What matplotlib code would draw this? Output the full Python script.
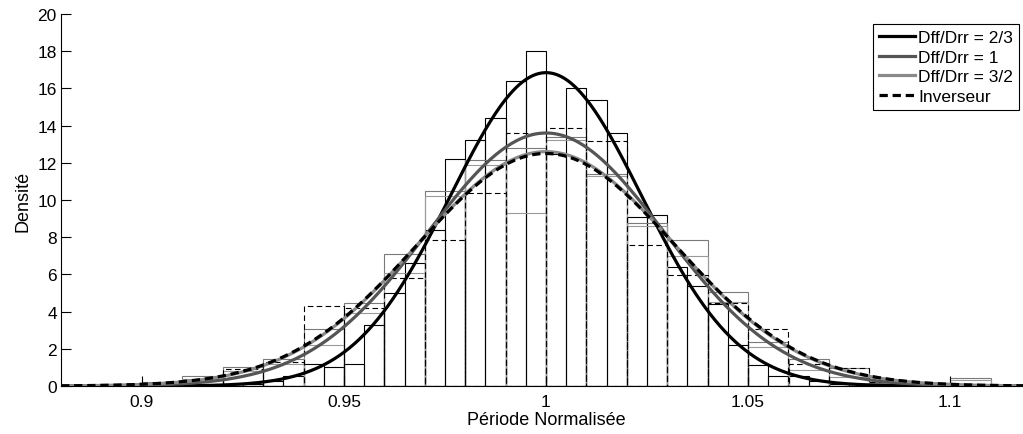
import numpy as np
import matplotlib
matplotlib.use("Agg")
import matplotlib.pyplot as plt
from matplotlib.lines import Line2D

plt.rcParams["font.family"] = ["Liberation Sans", "DejaVu Sans"]

# histogram of normalised period (density), one per Dff/Drr ratio + inverter
LABELS = ["Dff/Drr = 2/3", "Dff/Drr = 1", "Dff/Drr = 3/2", "Inverseur"]

# Dff/Drr = 2/3 : bins of 0.005 starting at 0.92
h23_start, h23_width = 0.92, 0.005
h23 = [0.1, 0.1, 0.25, 0.55, 1.2, 1.0, 1.2, 3.3, 5.0, 6.6, 8.4, 12.2,
       13.2, 14.4, 16.4, 18.0, 12.5, 16.0, 15.4, 13.6, 9.1, 9.2, 6.4, 5.4,
       4.4, 2.2, 1.15, 0.55, 0.55, 0.25, 0.1, 0.1]

# the other three : bins of 0.01 starting at 0.89
h_start, h_width = 0.89, 0.01
h1 = [0.05, 0.2, 0.55, 1.0, 1.45, 3.06, 4.46, 7.1, 10.47, 12.17, 12.78,
      13.4, 11.4, 8.76, 7.87, 5.07, 2.38, 1.45, 0.97, 0.2, 0.05, 0.43]
h32 = [0.03, 0.1, 0.38, 0.82, 1.18, 2.22, 3.9, 6.1, 10.23, 11.88, 9.28,
       13.2, 11.27, 8.58, 6.97, 4.5, 2.08, 0.88, 0.5, 0.15, 0.05, 0.3]
hinv = [0.05, 0.1, 0.3, 0.9, 1.3, 4.28, 4.17, 5.79, 7.87, 10.38, 13.58,
        13.89, 13.17, 7.58, 5.97, 4.46, 3.06, 1.2, 0.97, 0.2, 0.1, 0.05]

# fitted normal laws (mean, std)
fit_mu = [1.0, 1.0, 1.0, 1.0]
fit_sigma = [0.02368, 0.02933, 0.03166, 0.03191]

COL = ["black", "#555555", "#8a8a8a", "black"]
HCOL = ["black", "#7a7a7a", "#9a9a9a", "black"]

fig = plt.figure(figsize=(10.23, 4.35), dpi=100)
ax = fig.add_axes([61 / 1023, 48 / 435, 970 / 1023, 372 / 435])


def bars(start, width, vals, col, ls="-"):
    left = start + width * np.arange(len(vals))
    ax.bar(left, vals, width=width, align="edge", fill=False, edgecolor=col,
           linewidth=0.8, linestyle=ls, zorder=1)


bars(h23_start, h23_width, h23, HCOL[0])
bars(h_start, h_width, h1, HCOL[1])
bars(h_start, h_width, h32, HCOL[2])
bars(h_start, h_width, hinv, HCOL[3], ls=(0, (5, 3)))

x = np.linspace(0.88, 1.12, 600)
styles = ["-", "-", "-", (0, (2.6, 1.5))]
for mu, sd, c, ls in zip(fit_mu, fit_sigma, COL, styles):
    y = np.exp(-0.5 * ((x - mu) / sd) ** 2) / (sd * np.sqrt(2 * np.pi))
    ax.plot(x, y, color=c, lw=2.3, ls=ls, zorder=3)

ax.set_xlim(0.88, 1.12)
ax.set_ylim(0, 20)
ax.set_xticks([0.9, 0.95, 1.0, 1.05, 1.1])
ax.set_xticklabels(["0.9", "0.95", "1", "1.05", "1.1"])
ax.set_yticks(range(0, 21, 2))
ax.tick_params(direction="in", length=7, width=0.8, labelsize=12.5)
ax.tick_params(axis="x", pad=6)
ax.tick_params(axis="y", pad=3)
for s in ("top", "right"):
    ax.spines[s].set_visible(False)
for s in ("left", "bottom"):
    ax.spines[s].set_linewidth(0.8)

ax.set_xlabel("Période Normalisée", fontsize=13, labelpad=1)
ax.set_ylabel("Densité", fontsize=13, labelpad=4)

handles = [Line2D([], [], color=c, lw=2.3, ls=ls) for c, ls in zip(COL, styles)]
leg = fig.legend(handles, LABELS, loc="upper right",
                 bbox_to_anchor=(1019 / 1023, 1 - 25 / 435),
                 bbox_transform=fig.transFigure, fontsize=12.5,
                 fancybox=False, framealpha=1, edgecolor="black",
                 handlelength=2.1, handletextpad=0.15, labelspacing=0.25,
                 borderpad=0.35, borderaxespad=0)
leg.get_frame().set_linewidth(0.8)

fig.savefig("out.png", dpi=100)
